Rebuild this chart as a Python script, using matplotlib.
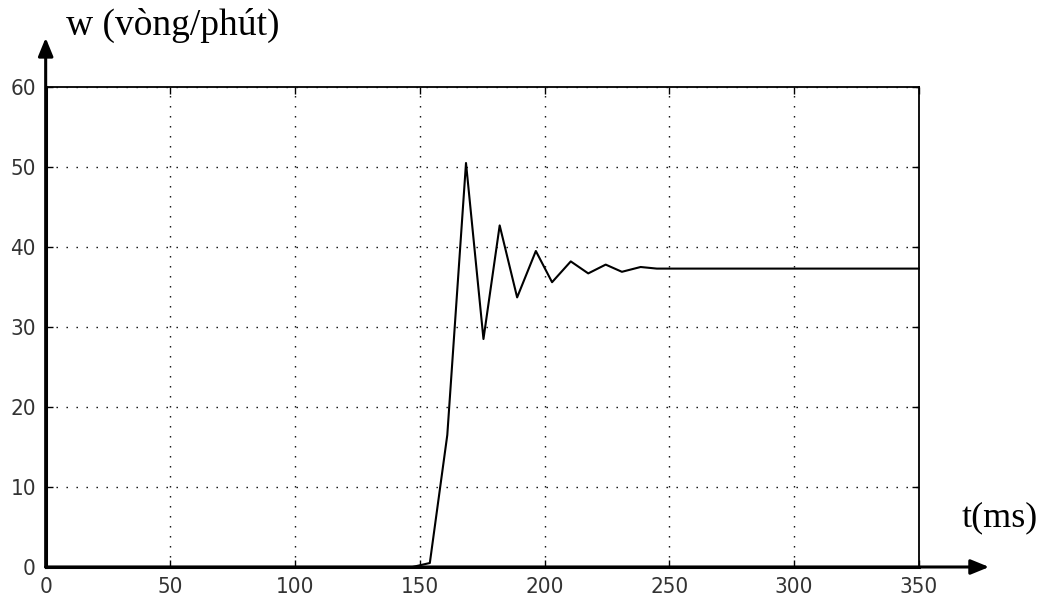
import matplotlib
matplotlib.use("Agg")
import matplotlib.pyplot as plt

# speed response samples
t_ms = [0, 147, 154, 161, 168.5, 175.5, 182, 189, 196.5, 203, 210.5, 217.5,
        224.5, 231, 238.5, 245, 350]
w_rpm = [0, 0, 0.5, 16.5, 50.5, 28.5, 42.7, 33.7, 39.5, 35.6, 38.2, 36.7,
         37.8, 36.9, 37.5, 37.3, 37.3]

x_ticks = [0, 50, 100, 150, 200, 250, 300, 350]
y_ticks = [0, 10, 20, 30, 40, 50, 60]

fig = plt.figure(figsize=(10.5, 6), dpi=100)
ax = fig.add_axes([0.0435, 0.055, 0.8315, 0.800])

ax.plot(t_ms, w_rpm, color="black", lw=1.5, clip_on=False, zorder=3)

ax.set_xlim(0, 350)
ax.set_ylim(0, 60)
ax.set_xticks(x_ticks)
ax.set_yticks(y_ticks)
ax.grid(True, color="black", lw=1.0, linestyle=(0, (1.0, 6.2)))
ax.tick_params(direction="in", length=5, width=1, top=True, right=True,
               labelsize=16, colors="black")
ax.tick_params(axis="x", pad=7)
ax.tick_params(axis="y", pad=7)
for lab in ax.get_xticklabels() + ax.get_yticklabels():
    lab.set_family("DejaVu Sans")
    lab.set_fontstretch("condensed")
    lab.set_color("#333333")

for side in ("left", "bottom"):
    ax.spines[side].set_linewidth(2.2)
for side in ("top", "right"):
    ax.spines[side].set_linewidth(1.3)

# axis arrows extending past the frame
arrow = dict(arrowstyle="-|>,head_length=1.1,head_width=0.45", color="black", lw=2.2,
             shrinkA=0, shrinkB=0)
ax.annotate("", xy=(0.0435, 0.937), xycoords="figure fraction",
            xytext=(0.0435, 0.055), textcoords="figure fraction", arrowprops=arrow)
ax.annotate("", xy=(0.942, 0.055), xycoords="figure fraction",
            xytext=(0.0435, 0.055), textcoords="figure fraction", arrowprops=arrow)

fig.text(0.063, 0.942, "w (vòng/phút)", family="Liberation Serif", fontsize=27,
         ha="left", va="baseline")
fig.text(0.916, 0.122, "t(ms)", family="Liberation Serif", fontsize=26,
         ha="left", va="baseline")

fig.savefig("out.png", dpi=100, facecolor="white")
